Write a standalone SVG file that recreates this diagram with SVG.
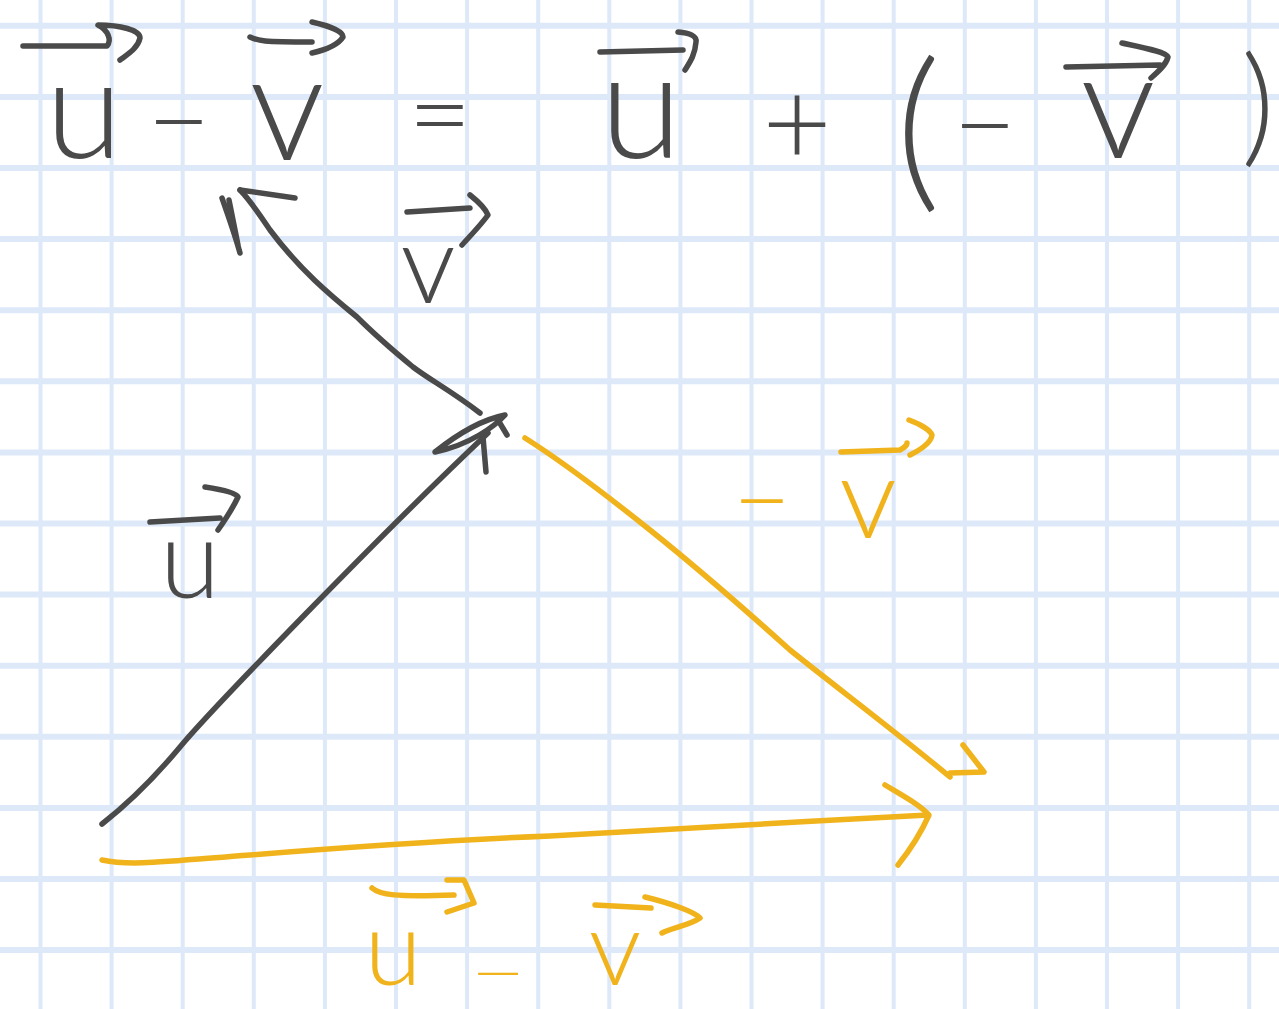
<svg xmlns="http://www.w3.org/2000/svg" width="1279" height="1009" viewBox="0 0 1279 1009">
<style>
.gv{stroke:#dde9f8;stroke-width:4}
.gh{stroke:#dde9f8;stroke-width:6}
.sg{fill:none;stroke:#4a4a4a;stroke-width:5.5;stroke-linecap:round;stroke-linejoin:round}
.so{fill:none;stroke:#f1b31c;stroke-width:5.5;stroke-linecap:round;stroke-linejoin:round}
.t{font-family:Lato,"Open Sans","DejaVu Sans",sans-serif;font-weight:300;text-anchor:middle}
.tg{fill:#4a4a4a}
.to{fill:#f1b31c}
</style>
<rect width="1279" height="1009" fill="#ffffff"/>
<g id="grid">
<line class="gv" x1="40.5" y1="0" x2="40.5" y2="1009"/>
<line class="gv" x1="111.6" y1="0" x2="111.6" y2="1009"/>
<line class="gv" x1="182.7" y1="0" x2="182.7" y2="1009"/>
<line class="gv" x1="253.8" y1="0" x2="253.8" y2="1009"/>
<line class="gv" x1="324.9" y1="0" x2="324.9" y2="1009"/>
<line class="gv" x1="396" y1="0" x2="396" y2="1009"/>
<line class="gv" x1="467.1" y1="0" x2="467.1" y2="1009"/>
<line class="gv" x1="538.2" y1="0" x2="538.2" y2="1009"/>
<line class="gv" x1="609.3" y1="0" x2="609.3" y2="1009"/>
<line class="gv" x1="680.4" y1="0" x2="680.4" y2="1009"/>
<line class="gv" x1="751.5" y1="0" x2="751.5" y2="1009"/>
<line class="gv" x1="822.6" y1="0" x2="822.6" y2="1009"/>
<line class="gv" x1="893.7" y1="0" x2="893.7" y2="1009"/>
<line class="gv" x1="964.8" y1="0" x2="964.8" y2="1009"/>
<line class="gv" x1="1035.9" y1="0" x2="1035.9" y2="1009"/>
<line class="gv" x1="1107" y1="0" x2="1107" y2="1009"/>
<line class="gv" x1="1178.1" y1="0" x2="1178.1" y2="1009"/>
<line class="gv" x1="1249.2" y1="0" x2="1249.2" y2="1009"/>
<line class="gh" x1="0" y1="25.8" x2="1279" y2="25.8"/>
<line class="gh" x1="0" y1="96.9" x2="1279" y2="96.9"/>
<line class="gh" x1="0" y1="168" x2="1279" y2="168"/>
<line class="gh" x1="0" y1="239.1" x2="1279" y2="239.1"/>
<line class="gh" x1="0" y1="310.2" x2="1279" y2="310.2"/>
<line class="gh" x1="0" y1="381.3" x2="1279" y2="381.3"/>
<line class="gh" x1="0" y1="452.4" x2="1279" y2="452.4"/>
<line class="gh" x1="0" y1="523.5" x2="1279" y2="523.5"/>
<line class="gh" x1="0" y1="594.6" x2="1279" y2="594.6"/>
<line class="gh" x1="0" y1="665.7" x2="1279" y2="665.7"/>
<line class="gh" x1="0" y1="736.8" x2="1279" y2="736.8"/>
<line class="gh" x1="0" y1="807.9" x2="1279" y2="807.9"/>
<line class="gh" x1="0" y1="879" x2="1279" y2="879"/>
<line class="gh" x1="0" y1="950.1" x2="1279" y2="950.1"/>
</g>
<g id="equation">
<text class="t tg" x="84" y="158" font-size="140">u</text>
<path class="sg" d="M23,46 L107,46 C112,40 108,30 98,25 C120,25 140,30 140,38 C138,48 128,54 120,60"/>
<text class="t tg" x="179" y="159" font-size="110">−</text>
<text class="t tg" x="287" y="160" font-size="150">v</text>
<path class="sg" d="M250,37 C258,41 262,42 312,42 M312,22 C330,26 343,32 343,37 C338,45 325,50 312,53"/>
<text class="t tg" x="440" y="153" font-size="110">=</text>
<text class="t tg" x="641" y="158" font-size="150">u</text>
<path class="sg" d="M600,52 L683,50 M678,32 C690,33 697,36 696,42 C695,55 690,62 685,70"/>
<text class="t tg" x="797" y="165" font-size="120">+</text>
<text class="t tg" x="918" y="189" font-size="175">(</text>
<text class="t tg" x="985" y="163" font-size="110">−</text>
<text class="t tg" x="1118" y="158" font-size="150">v</text>
<path class="sg" d="M1066,67 L1160,65 M1122,43 C1145,48 1166,52 1168,57 C1166,65 1158,72 1151,78"/>
<text class="t tg" x="1258" y="150" font-size="130">)</text>
</g>
<g id="connectors">
<g id="vec-u">
<path class="sg" d="M102,824 C125,806 150,783 180,747 S380,535 488,433"/>
<path class="sg" d="M435,452 C460,432 485,419 505,415 C495,426 470,445 435,452 Z M483,437 L486,472 M498,420 L507,435"/>
</g>
<g id="vec-v">
<path class="sg" d="M480,413 C450,390 430,380 413,367 C390,348 370,330 357,317 C330,295 300,270 270,230 C260,215 250,200 240,190"/>
<path class="sg" d="M240,190 L295,198 M222,198 C228,215 235,235 240,253 M229,200 L238,245"/>
</g>
<g id="vec-minus-v">
<path class="so" d="M525,438 C560,460 600,490 650,530 C700,570 740,605 790,650 C840,690 900,735 950,777"/>
<path class="so" d="M963,745 L984,772 L950,773"/>
</g>
<g id="vec-u-minus-v">
<path class="so" d="M102,860 C130,866 160,862 250,855 C350,847 450,840 550,836 C650,830 800,822 928,815"/>
<path class="so" d="M885,785 C905,797 920,805 929,815 C920,835 910,850 898,865"/>
</g>
</g>
<g id="label-u">
<text class="t tg" x="190" y="598" font-size="110">u</text>
<path class="sg" d="M150,522 L220,518 M205,487 C225,490 236,493 238,497 C232,510 225,520 218,530"/>
</g>
<g id="label-v">
<text class="t tg" x="428" y="303" font-size="110">v</text>
<path class="sg" d="M407,212 L470,208 M470,195 C480,203 486,210 488,215 C480,226 470,236 462,245"/>
</g>
<g id="label-minus-v">
<text class="t to" x="762" y="535" font-size="100">−</text>
<text class="t to" x="868" y="538" font-size="115">v</text>
<path class="so" d="M841,452 L900,450 C904,448 907,445 907,443 M909,420 C920,424 930,430 932,435 C931,443 920,450 910,455"/>
</g>
<g id="label-u-minus-v">
<text class="t to" x="393" y="985" font-size="105">u</text>
<path class="so" d="M372,888 C380,895 395,897 454,895 M447,880 L464,880 L474,903 L447,912"/>
<text class="t to" x="0" y="0" font-size="64" transform="translate(498,995) scale(1.5,1)">−</text>
<text class="t to" x="615" y="985" font-size="105">v</text>
<path class="so" d="M595,905 L651,908 M645,897 C670,903 695,912 700,918 C690,925 672,928 662,933"/>
</g>
</svg>
